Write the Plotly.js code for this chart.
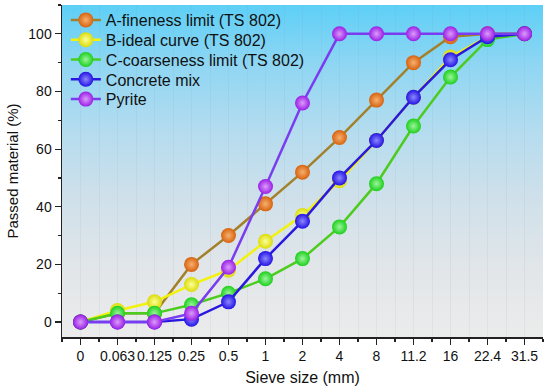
<!DOCTYPE html>
<html><head><meta charset="utf-8">
<script src="https://cdn.plot.ly/plotly-3.0.1.min.js"></script>
<style>
html,body{margin:0;padding:0;background:#fff}
#wrap{position:relative;width:550px;height:392px}
#bg{position:absolute;left:62px;top:5px;width:481px;height:332px;z-index:0;
 background:linear-gradient(to bottom,#5dcff6 0%,#8fd6f3 18%,#b4dcef 38%,#cfe0ea 58%,#e2e6e9 80%,#ebebeb 100%)}
#chart{position:absolute;left:0;top:0;width:550px;height:392px;z-index:1}
</style>
</head><body><div id="wrap"><div id="bg"></div><div id="chart"></div></div>
<script>
const sieveSizes = ["0","0.063","0.125","0.25","0.5","1","2","4","8","11.2","16","22.4","31.5"];
const aFineness  = [0, 3, 3, 20, 30, 41, 52, 64, 77, 90, 99, 100, 100];
const bIdeal     = [0, 4, 7, 13, 18, 28, 37, 49, 63, 78, 92, 99, 100];
const cCoarse    = [0, 3, 3, 6, 10, 15, 22, 33, 48, 68, 85, 98, 100];
const concrete   = [0, 0, 0, 1, 7, 22, 35, 50, 63, 78, 91, 99, 100];
const pyrite     = [0, 0, 0, 3, 19, 47, 76, 100, 100, 100, 100, 100, 100];
const seriesNames = ["A-fineness limit (TS 802)","B-ideal curve (TS 802)","C-coarseness limit (TS 802)","Concrete mix","Pyrite"];

const idx = sieveSizes.map((s,i)=>i);
const styles = [
  {line:'#a3812a', marker:'#d8620e', tint:'#f6b070'},
  {line:'#f2f20a', marker:'#dcdc08', tint:'#fbff9a'},
  {line:'#4ccc1e', marker:'#1ccf1c', tint:'#9cf59c'},
  {line:'#2a18e0', marker:'#2412e6', tint:'#8c88fa'},
  {line:'#7a3cf0', marker:'#9a1ee6', tint:'#dc9cfa'}
];
const ys = [aFineness,bIdeal,cCoarse,concrete,pyrite];
const traces = ys.map((y,k)=>({
  x: idx, y: y, name: seriesNames[k], type:'scatter', mode:'lines+markers',
  line:{color:styles[k].line, width:2.5},
  marker:{size:15, color:styles[k].marker, gradient:{type:'radial', color:styles[k].tint}, line:{width:0}}
}));

const layout = {
  width:550, height:392,
  margin:{l:62, r:7, t:5, b:55},
  paper_bgcolor:'rgba(0,0,0,0)', plot_bgcolor:'rgba(0,0,0,0)',
  font:{family:'Arial, "Liberation Sans", sans-serif', color:'#111', size:14},
  showlegend:true,
  legend:{x:0.008, y:1.0, xanchor:'left', yanchor:'top', bgcolor:'rgba(0,0,0,0)', font:{size:16, color:'#111'}, tracegroupgap:0},
  xaxis:{
    range:[-0.5,12.5], tickmode:'array', tickvals:idx, ticktext:sieveSizes, tickangle:0,
    showgrid:false, zeroline:false, showline:true, linecolor:'#222', linewidth:1.5,
    ticks:'outside', ticklen:6, tickwidth:1.2, tickcolor:'#222',
    minor:{dtick:0.5, tick0:0, ticks:'outside', ticklen:3, tickcolor:'#222', showgrid:true, gridcolor:'rgba(140,150,160,0.10)', gridwidth:1},
    title:{text:'Sieve size (mm)', font:{size:16}, standoff:8}, tickfont:{size:14}
  },
  yaxis:{
    range:[-5.2,110], tickvals:[0,20,40,60,80,100],
    showgrid:false, zeroline:false, showline:true, linecolor:'#222', linewidth:1.5,
    ticks:'outside', ticklen:6, tickwidth:1.2, tickcolor:'#222',
    minor:{dtick:10, tick0:0, ticks:'outside', ticklen:3, tickcolor:'#222', showgrid:false},
    title:{text:'Passed material (%)', font:{size:15}, standoff:6}, tickfont:{size:14}
  }
};
Plotly.newPlot('chart', traces, layout, {displayModeBar:false, staticPlot:true}).then(gd=>{
  // tighten legend row spacing to match the reference
  const items = gd.querySelectorAll('.legend .traces');
  let y0 = null;
  items.forEach((el,i)=>{
    const m = /translate\(([-\d.]+),\s*([-\d.]+)\)/.exec(el.getAttribute('transform')||'');
    if(!m) return;
    const x = parseFloat(m[1]), y = parseFloat(m[2]);
    if(y0 === null) y0 = y - 2;
    el.setAttribute('transform', 'translate(' + x + ',' + (y0 + i*19.8) + ')');
  });
});
</script></body></html>
